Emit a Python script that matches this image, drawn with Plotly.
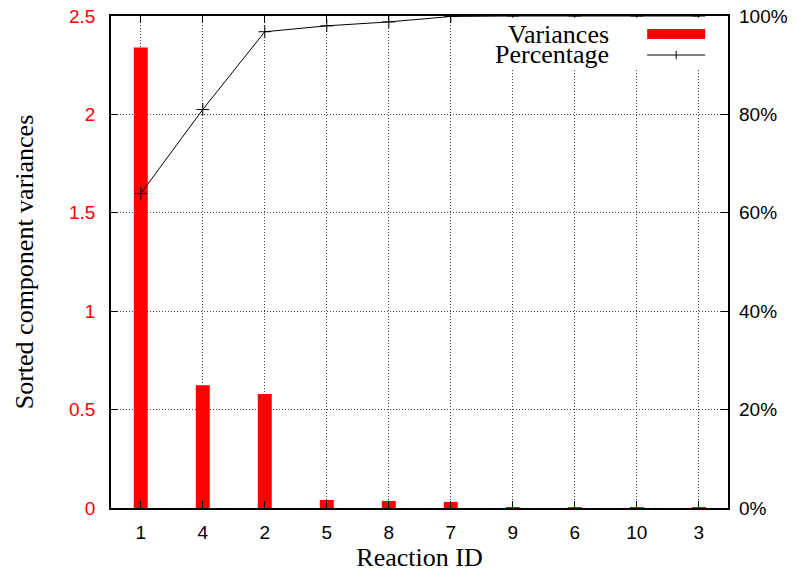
import plotly.graph_objects as go

categories = ["1", "4", "2", "5", "8", "7", "9", "6", "10", "3"]
variances = [2.34, 0.624, 0.579, 0.041, 0.036, 0.031, 0.004, 0.003, 0.002, 0.002]
percentage = [63.9, 81.0, 96.8, 98.0, 98.8, 99.9, 100.0, 100.0, 100.0, 100.0]
left_ticks = [0, 0.5, 1, 1.5, 2, 2.5]
left_tick_text = ["0", "0.5", "1", "1.5", "2", "2.5"]
right_ticks = [0, 20, 40, 60, 80, 100]
right_tick_text = ["0%", "20%", "40%", "60%", "80%", "100%"]

serif = "Liberation Serif"
sans = "Liberation Sans"
tick_size = 19
title_size = 26

fig = go.Figure()
fig.add_trace(go.Bar(x=categories, y=variances, name="Variances",
                     marker=dict(color="#ff0000", line=dict(width=0)),
                     width=0.225, showlegend=False))
fig.add_trace(go.Scatter(x=categories, y=percentage, name="Percentage", yaxis="y2",
                         mode="lines+markers",
                         line=dict(color="black", width=1),
                         marker=dict(symbol="cross-thin", size=9,
                                     line=dict(color="black", width=1)),
                         showlegend=False))

axis_common = dict(showline=True, linecolor="black", linewidth=1.5,
                   ticks="inside", ticklen=7, tickcolor="black", tickwidth=1,
                   zeroline=False, automargin=False, ticklabeloverflow="allow")

fig.update_layout(
    width=797, height=573,
    margin=dict(l=111, r=69, t=16, b=65),
    paper_bgcolor="white", plot_bgcolor="white",
    xaxis=dict(**axis_common, mirror="ticks", range=[-0.48, 9.47],
               showgrid=True, griddash="1px,2px", gridcolor="#444444", gridwidth=1,
               ticklabelstandoff=6,
               tickfont=dict(family=sans, size=tick_size, color="black"),
               title=dict(text="Reaction ID",
                          font=dict(family=serif, size=title_size, color="black"),
                          standoff=6)),
    yaxis=dict(**axis_common, mirror=True, range=[0, 2.5],
               tickvals=left_ticks, ticktext=left_tick_text,
               showgrid=True, griddash="1px,2px", gridcolor="#444444", gridwidth=1,
               ticklabelstandoff=10,
               tickfont=dict(family=sans, size=tick_size, color="#ff0000"),
               title=dict(text="Sorted component variances",
                          font=dict(family=serif, size=title_size, color="black"),
                          standoff=28)),
    yaxis2=dict(overlaying="y", side="right", range=[0, 100],
                tickvals=right_ticks, ticktext=right_tick_text,
                ticks="inside", ticklen=7, tickcolor="black", showgrid=False,
                zeroline=False, showline=False, automargin=False,
                ticklabeloverflow="allow", ticklabelstandoff=10,
                tickfont=dict(family=sans, size=tick_size, color="black")),
)

# key box in the upper right corner
fig.add_shape(type="rect", xref="paper", yref="paper", x0=0.60, x1=0.997, y0=0.893, y1=0.997,
              fillcolor="white", line=dict(width=0), layer="above")
fig.add_annotation(xref="paper", yref="paper", x=0.81, y=0.963, text="Variances",
                   showarrow=False, xanchor="right", yanchor="middle",
                   font=dict(family=serif, size=title_size, color="black"))
fig.add_annotation(xref="paper", yref="paper", x=0.81, y=0.921, text="Percentage",
                   showarrow=False, xanchor="right", yanchor="middle",
                   font=dict(family=serif, size=title_size, color="black"))
fig.add_shape(type="rect", xref="paper", yref="paper", x0=0.869, x1=0.963, y0=0.953, y1=0.9736,
              fillcolor="#ff0000", line=dict(width=0), layer="above")
fig.add_shape(type="line", xref="paper", yref="paper", x0=0.869, x1=0.963, y0=0.9207, y1=0.9207,
              line=dict(color="black", width=1), layer="above")
fig.add_shape(type="line", xref="paper", yref="paper", x0=0.916, x1=0.916, y0=0.912, y1=0.929,
              line=dict(color="black", width=1), layer="above")

# remove the browser's default 8px page margin so the figure fills the window
fig.write_html("out.html", config={"displayModeBar": False},
               post_script="document.body.style.margin='0px';document.body.style.overflow='hidden';")
